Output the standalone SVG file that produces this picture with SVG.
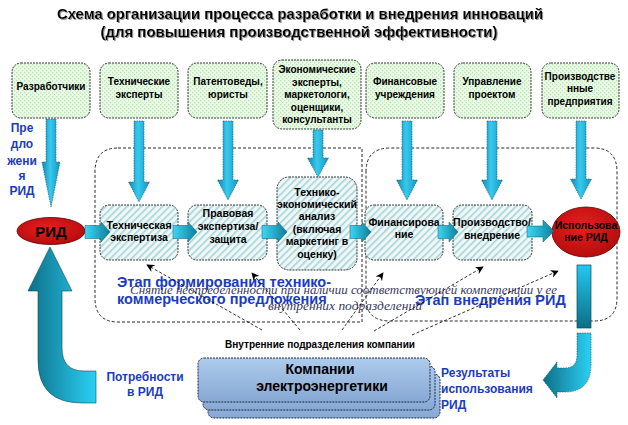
<svg xmlns="http://www.w3.org/2000/svg" width="628" height="425" viewBox="0 0 628 425">
<defs>
  <pattern id="pGreen" width="4" height="4" patternUnits="userSpaceOnUse">
    <rect width="4" height="4" fill="#eafbe6"/>
    <rect x="0" y="0" width="1.3" height="1.3" fill="#b8e4b4"/>
    <rect x="2" y="2" width="1.3" height="1.3" fill="#b8e4b4"/>
  </pattern>
  <pattern id="pCyan" width="5" height="5" patternUnits="userSpaceOnUse" patternTransform="rotate(45)">
    <rect width="5" height="5" fill="#eef8f8"/>
    <rect x="0" y="0" width="1.6" height="5" fill="#a9d3d6"/>
  </pattern>
  <linearGradient id="gV" x1="0" y1="0" x2="1" y2="0">
    <stop offset="0" stop-color="#0f88b0"/>
    <stop offset="0.45" stop-color="#38c9ee"/>
    <stop offset="1" stop-color="#1596c2"/>
  </linearGradient>
  <linearGradient id="gH" x1="0" y1="0" x2="1" y2="0">
    <stop offset="0" stop-color="#3fd6f4"/>
    <stop offset="1" stop-color="#0b7f9c"/>
  </linearGradient>
  <linearGradient id="gBar" x1="0" y1="0" x2="0" y2="1">
    <stop offset="0" stop-color="#22c8f0"/>
    <stop offset="1" stop-color="#0c6e86"/>
  </linearGradient>
  <linearGradient id="gJ" x1="1" y1="0" x2="0" y2="0">
    <stop offset="0" stop-color="#2ad0f4"/>
    <stop offset="1" stop-color="#0d6f88"/>
  </linearGradient>
  <linearGradient id="gU" x1="0" y1="0" x2="1" y2="0">
    <stop offset="0" stop-color="#0d6f88"/>
    <stop offset="1" stop-color="#2ad0f4"/>
  </linearGradient>
  <linearGradient id="gComp" x1="0" y1="0" x2="0" y2="1">
    <stop offset="0" stop-color="#aecbec"/>
    <stop offset="1" stop-color="#86a8d4"/>
  </linearGradient>
  <radialGradient id="gRed" cx="0.45" cy="0.4" r="0.6">
    <stop offset="0" stop-color="#e62020"/>
    <stop offset="1" stop-color="#b80c0c"/>
  </radialGradient>
  <filter id="shadow" x="-5%" y="-30%" width="110%" height="160%">
    <feDropShadow dx="1" dy="1" stdDeviation="0.6" flood-color="#8a8a8a" flood-opacity="0.9"/>
  </filter>
  <marker id="ah" viewBox="0 0 10 10" refX="9" refY="5" markerWidth="8" markerHeight="8" markerUnits="userSpaceOnUse" orient="auto">
    <path d="M0,0 L10,5 L0,10 L3,5 Z" fill="#000"/>
  </marker>
</defs>
<style>
  .t { font-family: "Liberation Sans", Arial, sans-serif; font-weight: bold; fill: #000; text-anchor: middle; }
  .title { font-size: 14.5px; }
  .top { font-size: 10px; }
  .mid { font-size: 10.5px; }
  .blue { font-family: "Liberation Sans", Arial, sans-serif; font-weight: bold; fill: #1a3cc0; }
  .it { font-family: "Liberation Serif", "Times New Roman", serif; font-style: italic; fill: #3a3a5a; font-size: 12.5px; }
  .boxG { fill: url(#pGreen); stroke: #222; stroke-width: 0.9; stroke-dasharray: 2 1; }
  .boxC { fill: url(#pCyan); stroke: #222; stroke-width: 0.9; stroke-dasharray: 2 1; }
  .zone { fill: none; stroke: #111; stroke-width: 0.9; stroke-dasharray: 3 2; }
  .va { fill: url(#gV); stroke: #0a5570; stroke-width: 0.6; stroke-dasharray: 1.5 1; }
  .ha { fill: url(#gH); stroke: #0a5570; stroke-width: 0.5; }
  .dl { fill: none; stroke: #000; stroke-width: 0.8; stroke-dasharray: 3 2; marker-end: url(#ah); }
  .comp { fill: url(#gComp); stroke: #1a2a40; stroke-width: 1; stroke-dasharray: 2 1; }
</style>
<rect width="628" height="425" fill="#fff"/>

<g id="title" filter="url(#shadow)">
  <text class="t title" x="300" y="19" textLength="486" lengthAdjust="spacingAndGlyphs">Схема организации процесса разработки и внедрения инноваций</text>
  <text class="t title" x="299" y="37" textLength="397" lengthAdjust="spacingAndGlyphs">(для повышения производственной эффективности)</text>
</g>

<!-- stage containers -->
<g id="stage-commercial">
  <path class="zone" d="M118,148 H362 V322 H118 Q95,322 95,298 V172 Q95,148 118,148 Z"/>
  <text class="blue" x="117" y="287" font-size="14.5">Этап формирования технико-</text>
  <text class="blue" x="117" y="304" font-size="14.5">коммерческого предложения</text>
</g>
<g id="stage-implementation">
  <path class="zone" d="M366,172 Q366,148 390,148 H594 Q617,148 617,172 V298 Q617,321 594,321 H390 Q366,321 366,298 Z"/>
  <text class="blue" x="415" y="305" font-size="14.5">Этап внедрения РИД</text>
</g>

<!-- top row -->
<g id="node-developers">
  <rect class="boxG" x="12" y="63" width="78" height="55" rx="9"/>
  <text class="t top" x="51" y="90">Разработчики</text>
</g>
<g id="node-tech-experts">
  <rect class="boxG" x="100" y="63" width="78" height="55" rx="9"/>
  <text class="t top" x="139" y="85">Технические</text>
  <text class="t top" x="139" y="98">эксперты</text>
</g>
<g id="node-patent">
  <rect class="boxG" x="188" y="63" width="79" height="55" rx="9"/>
  <text class="t top" x="228" y="85">Патентоведы,</text>
  <text class="t top" x="228" y="98">юристы</text>
</g>
<g id="node-econ-experts">
  <rect class="boxG" x="273" y="60" width="88" height="69" rx="9"/>
  <text class="t top" x="317" y="73">Экономические</text>
  <text class="t top" x="317" y="86">эксперты,</text>
  <text class="t top" x="317" y="98">маркетологи,</text>
  <text class="t top" x="317" y="111">оценщики,</text>
  <text class="t top" x="317" y="123">консультанты</text>
</g>
<g id="node-finance">
  <rect class="boxG" x="366" y="63" width="78" height="55" rx="9"/>
  <text class="t top" x="405" y="85">Финансовые</text>
  <text class="t top" x="405" y="98">учреждения</text>
</g>
<g id="node-pm">
  <rect class="boxG" x="454" y="63" width="77" height="55" rx="9"/>
  <text class="t top" x="492" y="85">Управление</text>
  <text class="t top" x="492" y="98">проектом</text>
</g>
<g id="node-enterprises">
  <rect class="boxG" x="542" y="63" width="77" height="55" rx="9"/>
  <text class="t top" x="580" y="80">Производстве</text>
  <text class="t top" x="580" y="92">нные</text>
  <text class="t top" x="580" y="105">предприятия</text>
</g>

<!-- left label -->
<g id="label-proposal">
  <text class="blue" x="22" y="132" font-size="12" text-anchor="middle">Пре</text>
  <text class="blue" x="22" y="148" font-size="12" text-anchor="middle">дло</text>
  <text class="blue" x="22" y="165" font-size="12" text-anchor="middle">жени</text>
  <text class="blue" x="22" y="180" font-size="12" text-anchor="middle">я</text>
  <text class="blue" x="22" y="195" font-size="12" text-anchor="middle">РИД</text>
</g>

<!-- middle row -->
<g id="node-rid">
  <ellipse cx="51" cy="231" rx="34" ry="13.5" fill="url(#gRed)" stroke="#5a0000" stroke-width="0.8"/>
  <text class="t" x="51" y="237" font-size="15">РИД</text>
</g>
<g id="node-tech-exp">
  <rect class="boxC" x="100" y="205" width="78" height="55" rx="9"/>
  <text class="t mid" x="139" y="229">Техническая</text>
  <text class="t mid" x="139" y="241">экспертиза</text>
</g>
<g id="node-legal">
  <rect class="boxC" x="188" y="205" width="79" height="55" rx="9"/>
  <text class="t mid" x="228" y="217">Правовая</text>
  <text class="t mid" x="228" y="230">экспертиза/</text>
  <text class="t mid" x="228" y="243">защита</text>
</g>
<g id="node-analysis">
  <rect class="boxC" x="277" y="177" width="80" height="93" rx="12"/>
  <text class="t mid" x="317" y="196">Технико-</text>
  <text class="t mid" x="317" y="208">экономический</text>
  <text class="t mid" x="317" y="220">анализ</text>
  <text class="t mid" x="317" y="233">(включая</text>
  <text class="t mid" x="317" y="245">маркетинг в</text>
  <text class="t mid" x="317" y="258">оценку)</text>
</g>
<g id="node-financing">
  <rect class="boxC" x="365" y="205" width="78" height="55" rx="9"/>
  <text class="t mid" x="404" y="226">Финансирова</text>
  <text class="t mid" x="404" y="238">ние</text>
</g>
<g id="node-production">
  <rect class="boxC" x="453" y="205" width="79" height="55" rx="9"/>
  <text class="t mid" x="492" y="226">Производство/</text>
  <text class="t mid" x="492" y="239">внедрение</text>
</g>
<g id="node-usage">
  <ellipse cx="586" cy="232" rx="34" ry="25" fill="url(#gRed)" stroke="#5a0000" stroke-width="0.8"/>
  <text class="t mid" x="586" y="229">Использова</text>
  <text class="t mid" x="586" y="241">ние РИД</text>
</g>

<!-- italic note -->
<g id="note">
  <text class="it" x="130" y="294" textLength="427" lengthAdjust="spacingAndGlyphs">Снятие неопределенности при наличии соответствующей компетенции у ее</text>
  <text class="it" x="268" y="310" textLength="154" lengthAdjust="spacingAndGlyphs">внутренних подразделений</text>
</g>

<g id="node-internal">
  <text class="t" x="320" y="348" font-size="10">Внутренние  подразделения компании</text>
</g>

<g id="node-companies">
  <rect class="comp" x="208" y="374" width="232" height="44" rx="6"/>
  <rect class="comp" x="203" y="366" width="232" height="44" rx="6"/>
  <rect class="comp" x="198" y="358" width="232" height="44" rx="6" stroke-dasharray="none"/>
  <text class="t" x="320" y="374" font-size="14">Компании</text>
  <text class="t" x="322" y="391" font-size="14">электроэнергетики</text>
</g>

<g id="label-needs">
  <text class="blue" x="145" y="381" font-size="12" text-anchor="middle">Потребности</text>
  <text class="blue" x="145" y="396" font-size="12" text-anchor="middle">в РИД</text>
</g>
<g id="label-results">
  <text class="blue" x="441" y="377" font-size="12">Результаты</text>
  <text class="blue" x="441" y="393" font-size="12">использования</text>
  <text class="blue" x="441" y="409" font-size="12">РИД</text>
</g>

<g id="connectors">
  <!-- vertical arrows from top row -->
  <path class="va" d="M46,119 H56 V162 H60 L51,207 L42,162 H46 Z"/>
  <path class="va" d="M134,121 H144 V182 H149.5 L139,202 L128.5,182 H134 Z"/>
  <path class="va" d="M223,121 H233 V180 H238.5 L228,200 L217.5,180 H223 Z"/>
  <path class="va" d="M313,130 H323 V158 H328.5 L318,177 L307.5,158 H313 Z"/>
  <path class="va" d="M402,121 H412 V180 H417.5 L407,200 L396.5,180 H402 Z"/>
  <path class="va" d="M487,121 H497 V180 H502.5 L492,200 L481.5,180 H487 Z"/>
  <path class="va" d="M576,121 H586 V179 H591.5 L581,199 L570.5,179 H576 Z"/>
  <!-- horizontal arrows -->
  <path class="ha" d="M85,225.5 H101 V222 L110,232 L101,242 V238.5 H85 Z"/>
  <path class="ha" d="M173,225.5 H188 V222 L197,232 L188,242 V238.5 H173 Z"/>
  <path class="ha" d="M262,225.5 H278 V222 L287,232 L278,242 V238.5 H262 Z"/>
  <path class="ha" d="M350,225.5 H362 V222 L371,232 L362,242 V238.5 H350 Z"/>
  <path class="ha" d="M438,225.5 H449 V222 L458,232 L449,242 V238.5 H438 Z"/>
  <path class="ha" d="M527,226 H543 V220 L554,231 L543,242 V237 H527 Z"/>
  <!-- usage down bar and J arrow -->
  <rect x="577" y="265" width="14" height="63" fill="url(#gBar)" stroke="#0a4a5e" stroke-width="0.7"/>
  <path d="M577,333 H591 V364 Q591,392 565,392 H557 V398 L543,380 L557,362 V368 H565 Q577,368 577,355 Z" fill="url(#gJ)" stroke="#0a4a5e" stroke-width="0.6" stroke-dasharray="1.5 1"/>
  <!-- left U arrow (needs -> RID) -->
  <path d="M50,247 L72,291 H62 V348 Q62,371 84,371 H96 V403 H82 Q38,403 38,360 V291 H28 Z" fill="url(#gU)" stroke="#0a4a5e" stroke-width="0.6"/>
  <!-- dashed arrows from internal divisions -->
  <path class="dl" d="M262,330 L147,265"/>
  <path class="dl" d="M300,330 L252,273"/>
  <path class="dl" d="M342,330 L383,273"/>
  <path class="dl" d="M374,331 L483,267"/>
  <path class="dl" d="M412,335 L558,271"/>
</g>
</svg>
